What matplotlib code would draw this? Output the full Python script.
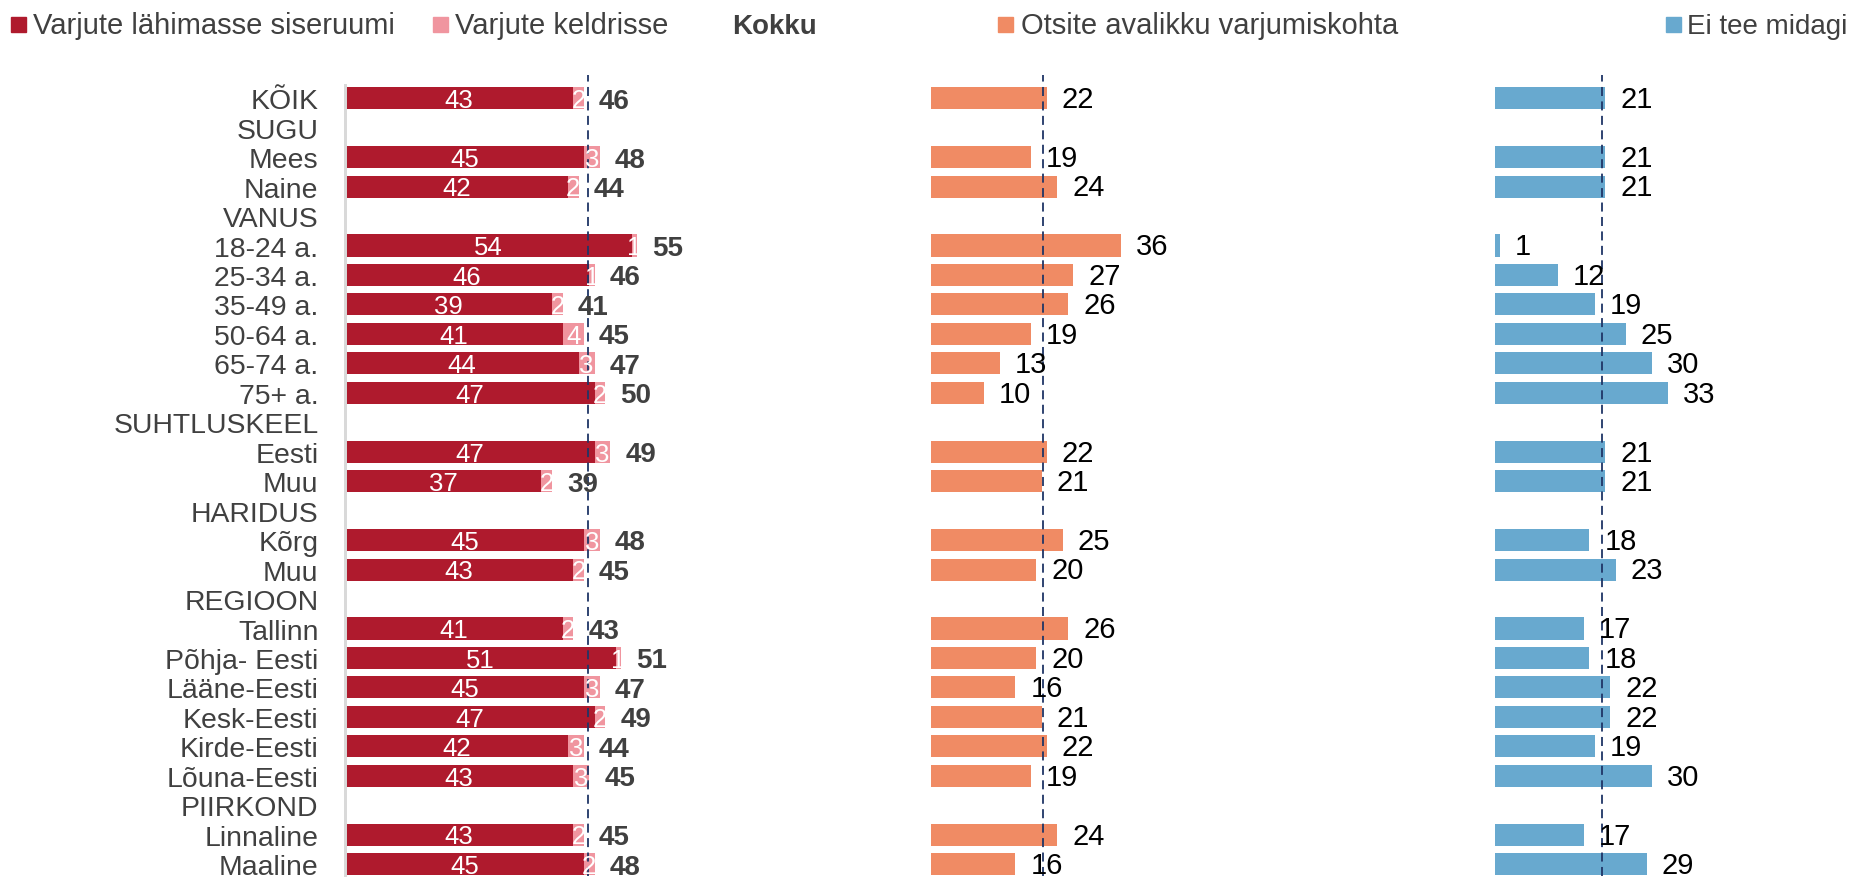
import numpy as np
import matplotlib
matplotlib.use("Agg")
import matplotlib.pyplot as plt
from matplotlib.patches import Rectangle

plt.rcParams['font.family'] = ['Liberation Sans', 'DejaVu Sans']

# rows (None = group header, no bars)
labels = ["KÕIK", "SUGU", "Mees", "Naine", "VANUS", "18-24 a.", "25-34 a.", "35-49 a.",
          "50-64 a.", "65-74 a.", "75+ a.", "SUHTLUSKEEL", "Eesti", "Muu", "HARIDUS",
          "Kõrg", "Muu", "REGIOON", "Tallinn", "Põhja- Eesti", "Lääne-Eesti", "Kesk-Eesti",
          "Kirde-Eesti", "Lõuna-Eesti", "PIIRKOND", "Linnaline", "Maaline"]
siseruum = [43, None, 45, 42, None, 54, 46, 39, 41, 44, 47, None, 47, 37, None, 45, 43,
            None, 41, 51, 45, 47, 42, 43, None, 43, 45]
kelder = [2, None, 3, 2, None, 1, 1, 2, 4, 3, 2, None, 3, 2, None, 3, 2,
          None, 2, 1, 3, 2, 3, 3, None, 2, 2]
kokku = [46, None, 48, 44, None, 55, 46, 41, 45, 47, 50, None, 49, 39, None, 48, 45,
         None, 43, 51, 47, 49, 44, 45, None, 45, 48]
avalik = [22, None, 19, 24, None, 36, 27, 26, 19, 13, 10, None, 22, 21, None, 25, 20,
          None, 26, 20, 16, 21, 22, 19, None, 24, 16]
midagi = [21, None, 21, 21, None, 1, 12, 19, 25, 30, 33, None, 21, 21, None, 18, 23,
          None, 17, 18, 22, 22, 19, 30, None, 17, 29]
# average lines (dashed)
ref_lines = [45.8, 21.3, 20.5]

c_red = "#AF1A2D"
c_pink = "#F0959F"
c_orange = "#F08B64"
c_blue = "#68A9CF"
c_line = "#1F3566"
c_text = "#404040"

W, H = 1857, 878
fig = plt.figure(figsize=(W / 100, H / 100), dpi=100)

top_px = 84.5
bot_px = 876.5
ylo, yhi = -0.5 + (bot_px - top_px) / 29.46, -0.5


def make_ax(x0, x1, scale):
    ax = fig.add_axes([x0 / W, (H - bot_px) / H, (x1 - x0) / W, (bot_px - top_px) / H])
    ax.set_xlim(0, (x1 - x0) / scale)
    ax.set_ylim(ylo, yhi)
    for s in ax.spines.values():
        s.set_visible(False)
    ax.set_xticks([])
    ax.set_yticks([])
    return ax


ax1 = make_ax(345, 900, 5.31)
ax2 = make_ax(931, 1460, 5.27)
ax3 = make_ax(1495, 1857, 5.24)

ax1.spines['left'].set_visible(True)
ax1.spines['left'].set_color("#D9D9D9")
ax1.spines['left'].set_linewidth(2)
ax1.spines['left'].set_bounds(ylo + 1, -0.45)
ax1.plot([0, 0], [ylo, -0.45], color="#D9D9D9", lw=2, clip_on=False)
ax1.set_yticks(range(len(labels)))
ax1.set_yticklabels(labels, fontsize=20.4, color=c_text)
ax1.tick_params(axis='y', length=0, pad=19)

rows = [i for i, v in enumerate(siseruum) if v is not None]
r = np.array(rows)
s1 = np.array([siseruum[i] for i in rows])
s2 = np.array([kelder[i] for i in rows])
tot = [kokku[i] for i in rows]
av = np.array([avalik[i] for i in rows])
md = np.array([midagi[i] for i in rows])

bh = 0.75
ax1.barh(r, s1, height=bh, color=c_red)
ax1.barh(r, s2, left=s1, height=bh, color=c_pink)
for y, a, b, t in zip(r, s1, s2, tot):
    ax1.text(a / 2, y + 0.06, str(a), ha='center', va='center', color='white', fontsize=18.5)
    ax1.text(a + b / 2, y + 0.06, str(b), ha='center', va='center', color='white', fontsize=18.5)
    ax1.annotate(str(t), xy=(a + b, y + 0.08), xytext=(15, 0), textcoords='offset pixels',
                 ha='left', va='center', color=c_text, fontsize=20, fontweight='bold')

ax2.barh(r, av, height=bh, color=c_orange)
for y, v in zip(r, av):
    ax2.annotate(str(v), xy=(v, y + 0.03), xytext=(15, 0), textcoords='offset pixels',
                 ha='left', va='center', color='black', fontsize=21)

ax3.barh(r, md, height=bh, color=c_blue)
for y, v in zip(r, md):
    ax3.annotate(str(v), xy=(v, y + 0.03), xytext=(15, 0), textcoords='offset pixels',
                 ha='left', va='center', color='black', fontsize=21)

for ax, ref in zip([ax1, ax2, ax3], ref_lines):
    ax.plot([ref, ref], [ylo, -0.8], color=c_line, lw=1.3, ls=(0, (5, 3)), clip_on=False)

# legend row
leg = [(11, 33, c_red, "Varjute lähimasse siseruumi", 21),
       (433, 455, c_pink, "Varjute keldrisse", 21),
       (998, 1021, c_orange, "Otsite avalikku varjumiskohta", 21),
       (1666, 1687, c_blue, "Ei tee midagi", 20)]
for mx, tx, col, txt, fs in leg:
    fig.patches.append(Rectangle((mx / W, 1 - 33 / H), 15 / W, 15 / H, color=col,
                                 transform=fig.transFigure, figure=fig))
    fig.text(tx / W, 1 - 34 / H, txt, ha='left', va='baseline', fontsize=fs, color=c_text)
fig.text(732 / W, 1 - 34 / H, "Kokku", ha='left', va='baseline', fontsize=20,
         fontweight='bold', color=c_text)

fig.savefig("out.png", dpi=100)
